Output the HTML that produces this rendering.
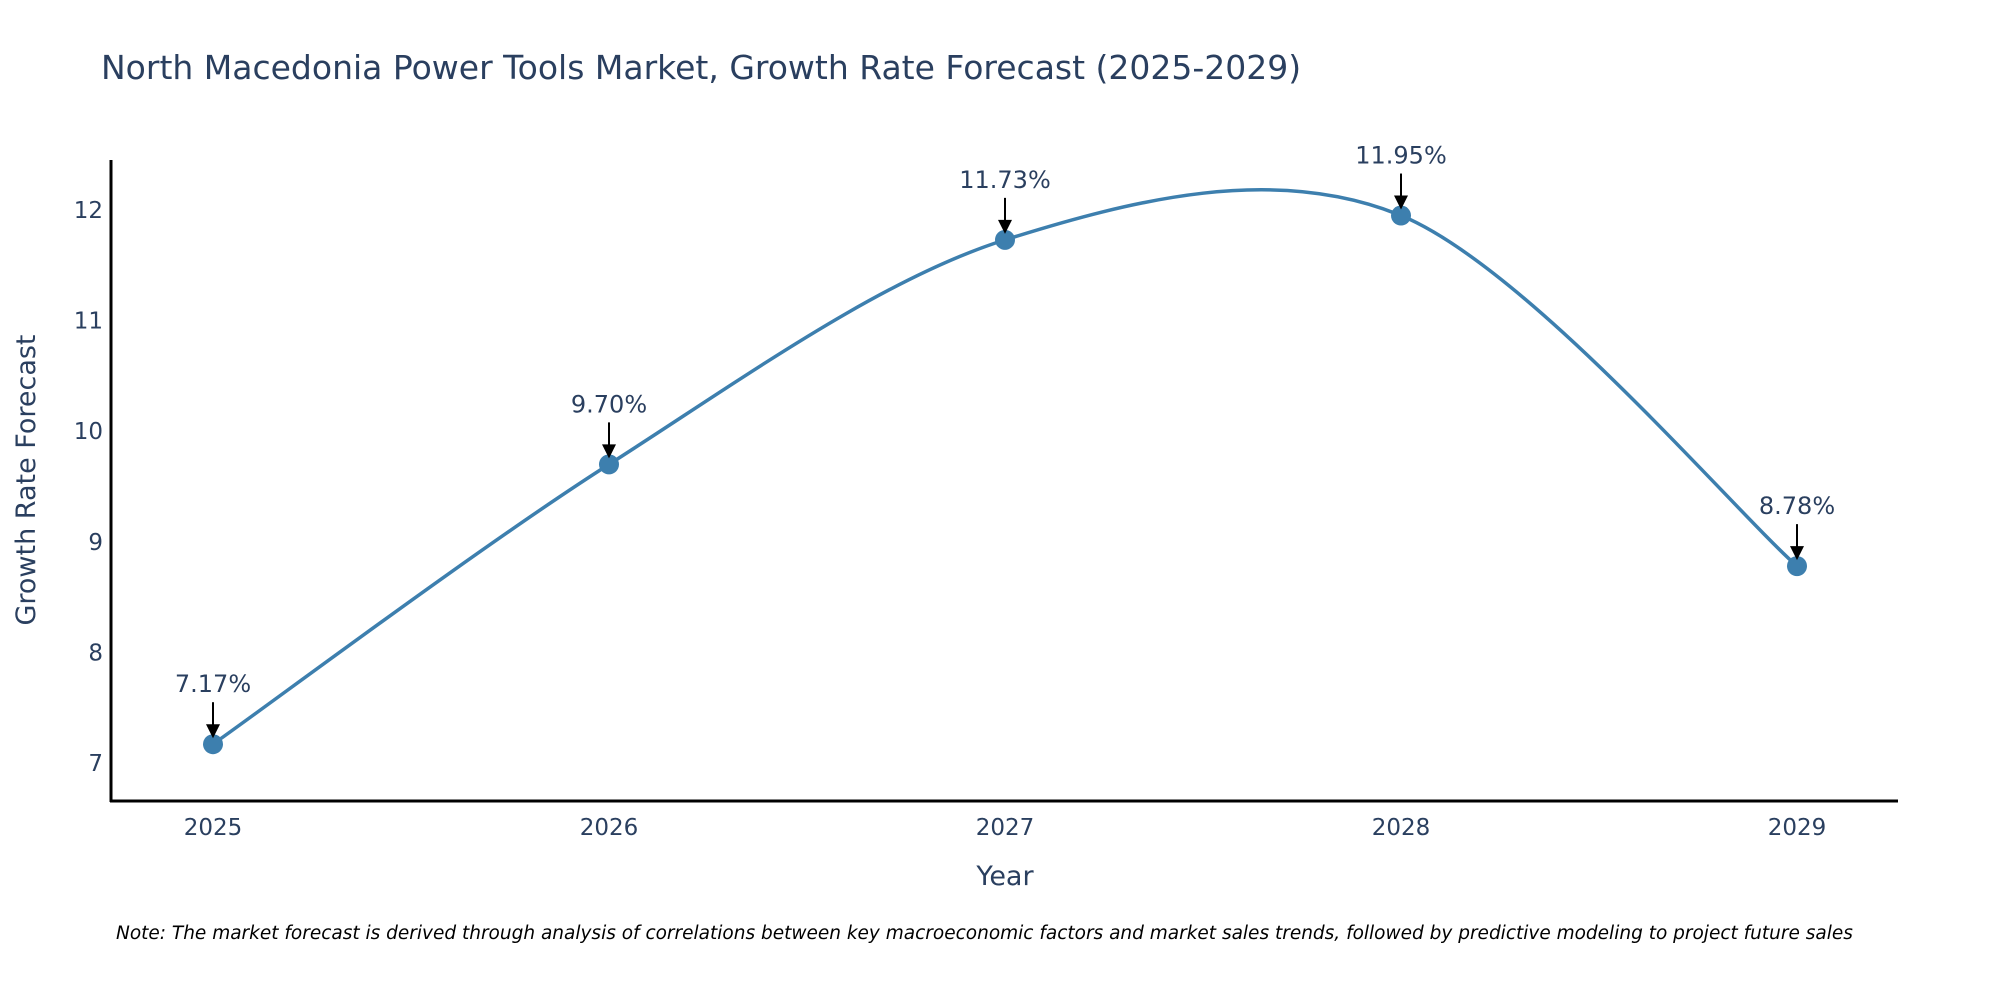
<!DOCTYPE html>
<html><head><meta charset="utf-8"><style>
body{margin:0;background:#fff;}
svg{display:block;font-family:"DejaVu Sans","Liberation Sans",sans-serif;}
</style></head><body>
<svg id="chart" width="2000" height="1000" viewBox="0 0 2000 1000">
<text x="101" y="79" font-size="33" fill="#2a3f5f">North Macedonia Power Tools Market, Growth Rate Forecast (2025-2029)</text>
<line x1="111" y1="160" x2="111" y2="802" stroke="#000" stroke-width="3"/>
<line x1="110" y1="801" x2="1898" y2="801" stroke="#000" stroke-width="3"/>
<g id="yticks"></g><g id="xticks"></g>
<path id="line" fill="none" stroke="#3d7fae" stroke-width="3.5"/>
<g id="points"></g>
<text transform="translate(35,480) rotate(-90)" text-anchor="middle" font-size="27" fill="#2a3f5f">Growth Rate Forecast</text>
<text x="1005" y="885" text-anchor="middle" font-size="27" fill="#2a3f5f">Year</text>
<text x="116" y="939" font-size="18.5" font-style="italic" fill="#000">Note: The market forecast is derived through analysis of correlations between key macroeconomic factors and market sales trends, followed by predictive modeling to project future sales</text>
</svg>
<script>
const years=[2025,2026,2027,2028,2029];
const values=[7.17,9.70,11.73,11.95,8.78];
const labels=["7.17%","9.70%","11.73%","11.95%","8.78%"];
const yTicks=[7,8,9,10,11,12];
const NS="http://www.w3.org/2000/svg";
const xS=v=>213+(v-2025)*(1797-213)/4;
const yS=v=>763-(v-7)*110.6;
function mk(t,a,p){const e=document.createElementNS(NS,t);for(const k in a)e.setAttribute(k,a[k]);(p||document.getElementById('chart')).appendChild(e);return e;}
const yt=document.getElementById('yticks');
yTicks.forEach(t=>{const e=mk('text',{x:103,y:yS(t)+8,'text-anchor':'end','font-size':23,fill:'#2a3f5f'},yt);e.textContent=t;

});
const xt=document.getElementById('xticks');
years.forEach(y=>{const e=mk('text',{x:xS(y),y:835,'text-anchor':'middle','font-size':23,fill:'#2a3f5f'},xt);e.textContent=y;

});
const P=years.map((y,i)=>[xS(y),yS(values[i])]);
let d=`M${P[0][0]},${P[0][1]}`;const t=0.16;
for(let i=0;i<P.length-1;i++){const p0=P[Math.max(i-1,0)],p1=P[i],p2=P[i+1],p3=P[Math.min(i+2,P.length-1)];
const c1=[p1[0]+(p2[0]-p0[0])*t,p1[1]+(p2[1]-p0[1])*t];
const c2=[p2[0]-(p3[0]-p1[0])*t,p2[1]-(p3[1]-p1[1])*t];
d+=` C${c1[0]},${c1[1]} ${c2[0]},${c2[1]} ${p2[0]},${p2[1]}`;}
document.getElementById('line').setAttribute('d',d);
const pg=document.getElementById('points');
P.forEach((p,i)=>{
const c=mk('circle',{cx:p[0],cy:p[1],r:10,fill:'#3d7fae'},pg);


const l=mk('line',{x1:p[0],y1:p[1]-42,x2:p[0],y2:p[1]-18,stroke:'#000','stroke-width':2},pg);


const a=mk('path',{d:`M${p[0]-7},${p[1]-20} L${p[0]+7},${p[1]-20} L${p[0]},${p[1]-6} Z`,fill:'#000'},pg);


const tx=mk('text',{x:p[0],y:p[1]-52,'text-anchor':'middle','font-size':24,fill:'#2a3f5f'},pg);tx.textContent=labels[i];


});
</script>
</body></html>
